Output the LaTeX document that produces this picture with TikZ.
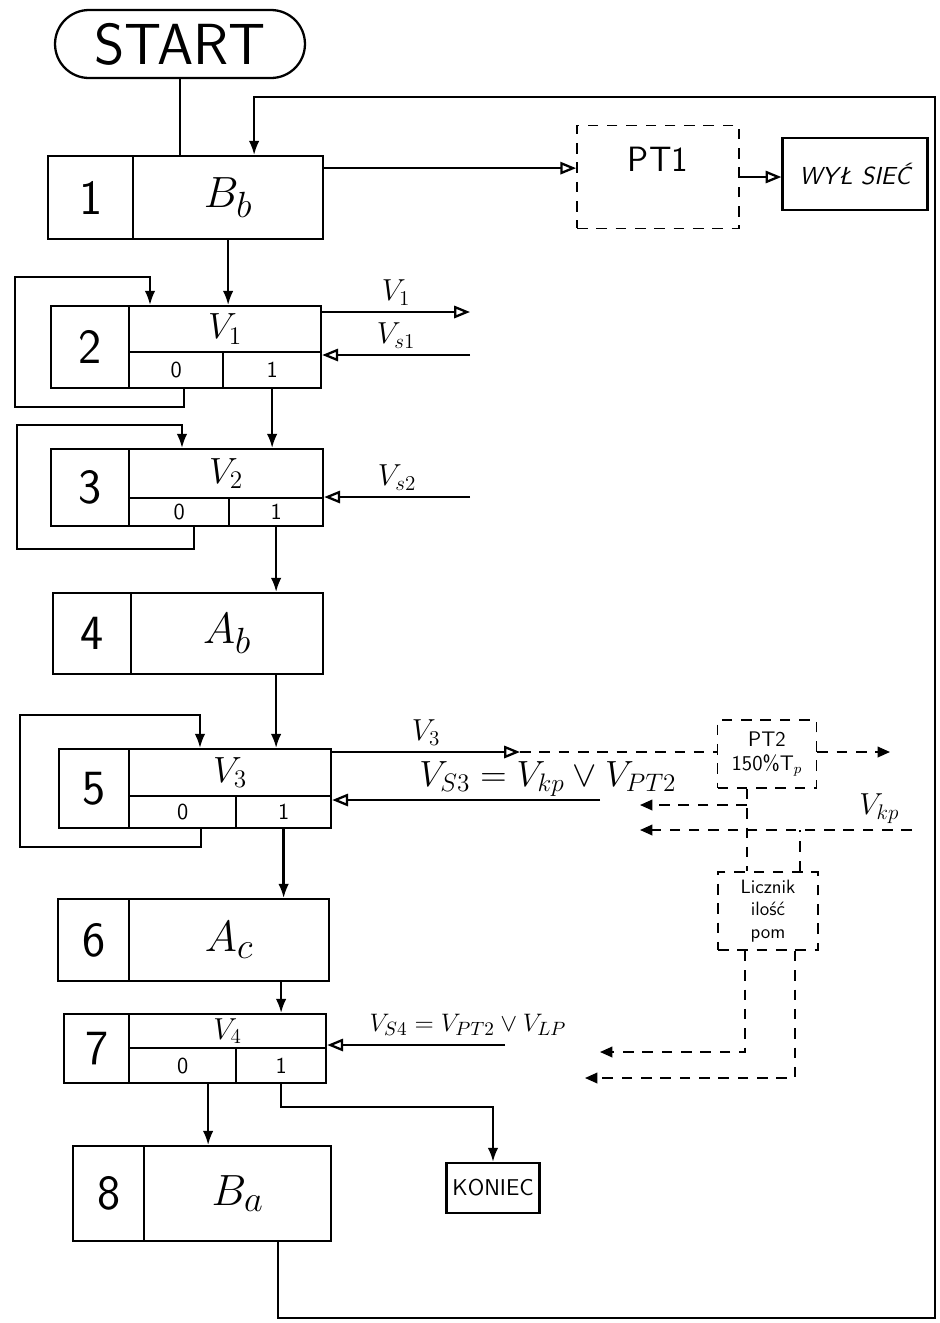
\documentclass[tikz,border=0pt]{standalone}
\usepackage{amsmath}
\usepackage{amssymb}
\usepackage{tikz}
\usetikzlibrary{positioning}
\usetikzlibrary{arrows.meta}
\usetikzlibrary{shapes}

\begin{document}
\begin{tikzpicture}[x=0.02cm, y=-0.02cm, auto, line width=1.3pt,
    cell/.style={draw, anchor=north west, inner sep=0pt},
    num/.style={cell, font=\sffamily\fontsize{28}{30}\selectfont},
    big/.style={cell, font=\fontsize{30}{32}\selectfont},
    lab/.style={cell, font=\fontsize{22}{24}\selectfont},
    bit/.style={cell, font=\sffamily\fontsize{13}{15}\selectfont},
    sl/.style={font=\fontsize{18}{20}\selectfont},
    flow/.style={-{Latex[length=8pt,width=6pt]}},
    sig/.style={-{Triangle[open,length=9pt,width=7pt]}},
    dline/.style={line width=1pt, dash pattern=on 6pt off 5pt},
    dsig/.style={dline, -{Triangle[length=7pt,width=6pt]}},
    dbox/.style={draw, dline, inner sep=1pt, align=center}]
    \useasboundingbox (0,0) rectangle (940,1323);

    \node (start) [draw, rounded corners=0.68cm, minimum width=5cm, minimum height=1.36cm, font=\sffamily\fontsize{33}{36}\selectfont] at (180,44) {START};

    \node (n1) [num, minimum width=1.7cm, minimum height=1.66cm] at (47,155) {1};
    \node (b1) [big, minimum width=3.8cm, minimum height=1.66cm] at (132,155) {$B_b$};

    \node (pt1) [dbox, minimum width=3.24cm, minimum height=2.06cm, label={[anchor=north, yshift=-0.3cm, font=\sffamily\fontsize{20}{22}\selectfont]north:PT1}] at (658,177) {};
    \node (wyl) [draw, minimum width=2.9cm, minimum height=1.44cm, font=\sffamily\itshape\fontsize{14}{16}\selectfont] at (855,174) {WYŁ SIEĆ};

    \node (n2) [num, minimum width=1.56cm, minimum height=1.64cm] at (50,305) {2};
    \node (v2) [lab, minimum width=3.84cm, minimum height=0.92cm] at (128,305) {$V_1$};
    \node (z2) [bit, minimum width=1.88cm, minimum height=0.72cm] at (128,351) {0};
    \node (o2) [bit, minimum width=1.96cm, minimum height=0.72cm] at (222,351) {1};

    \node (n3) [num, minimum width=1.56cm, minimum height=1.54cm] at (50,448) {3};
    \node (v3) [lab, minimum width=3.88cm, minimum height=0.98cm] at (128,448) {$V_2$};
    \node (z3) [bit, minimum width=2cm, minimum height=0.56cm] at (128,497) {0};
    \node (o3) [bit, minimum width=1.88cm, minimum height=0.56cm] at (228,497) {1};

    \node (n4) [num, minimum width=1.56cm, minimum height=1.62cm] at (52,592) {4};
    \node (b4) [big, minimum width=3.84cm, minimum height=1.62cm] at (130,592) {$A_b$};

    \node (n5) [num, minimum width=1.4cm, minimum height=1.58cm] at (58,748) {5};
    \node (v5) [lab, minimum width=4.04cm, minimum height=0.94cm] at (128,748) {$V_3$};
    \node (z5) [bit, minimum width=2.14cm, minimum height=0.64cm] at (128,795) {0};
    \node (o5) [bit, minimum width=1.9cm, minimum height=0.64cm] at (235,795) {1};

    \node (pt2) [dbox, minimum width=1.98cm, minimum height=1.36cm, font=\sffamily\fontsize{12}{14}\selectfont] at (767,754) {PT2\\150\%T$_p$};
    \node (lic) [dbox, minimum width=2cm, minimum height=1.56cm, font=\sffamily\fontsize{11}{13}\selectfont] at (768,911) {Licznik\\ilość\\pom};

    \node (n6) [num, minimum width=1.42cm, minimum height=1.64cm] at (57,898) {6};
    \node (b6) [big, minimum width=4cm, minimum height=1.64cm] at (128,898) {$A_c$};

    \node (n7) [num, minimum width=1.3cm, minimum height=1.38cm] at (63,1013) {7};
    \node (v7) [lab, minimum width=3.94cm, minimum height=0.68cm, font=\fontsize{17}{19}\selectfont] at (128,1013) {$V_4$};
    \node (z7) [bit, minimum width=2.14cm, minimum height=0.7cm] at (128,1047) {0};
    \node (o7) [bit, minimum width=1.8cm, minimum height=0.7cm] at (235,1047) {1};

    \node (n8) [num, minimum width=1.42cm, minimum height=1.9cm] at (72,1145) {8};
    \node (b8) [big, minimum width=3.74cm, minimum height=1.9cm] at (143,1145) {$B_a$};

    \node (kon) [draw, minimum width=1.66cm, minimum height=1cm, font=\sffamily\fontsize{13}{15}\selectfont] at (493,1188) {KONIEC};

    \node (ls3) [font=\fontsize{22}{24}\selectfont] at (548,779) {$V_{S3}= V_{kp}\vee V_{PT2}$};
    \node (ls4) [font=\fontsize{15}{17}\selectfont] at (468,1025) {$V_{S4} = V_{PT2}\vee V_{LP}$};

    \coordinate (rb) at (935,1318);
    \coordinate (rt) at (935,97);
    \coordinate (l2) at (15,277);
    \coordinate (l3) at (17,425);
    \coordinate (l5) at (20,715);
    \coordinate (v1e) at (470,312);
    \coordinate (vs1) at (470,355);
    \coordinate (vs2) at (470,497);
    \coordinate (v3m) at (520,752);
    \coordinate (pt2r) at (890,752);
    \coordinate (vs3) at (600,800);
    \coordinate (k1) at (640,805);
    \coordinate (kp) at (912,830);
    \coordinate (k2) at (640,830);
    \coordinate (lp1) at (600,1052);
    \coordinate (lp2) at (585,1078);
    \coordinate (vs4) at (505,1045);

    \draw (start) -- (start |- b1.north);
    \draw[flow] ([xshift=0.81cm]b8.south) |- (rb) -- (rt) -| ([xshift=0.52cm]b1.north);
    \draw[sig] ([yshift=0.59cm]b1.east) -- ([yshift=0.59cm]b1.east -| pt1.west);
    \draw[sig] (pt1.east) -- (pt1.east -| wyl.west);

    \draw[flow] (b1.south) -- (b1.south |- v2.north);
    \draw[flow] ([xshift=0.16cm]z2.south) -- ++(0,18) -| (l2) -| ([xshift=0.44cm]v2.north west);
    \draw[sig] (v1e -| v2.east) to node[sl] {$V_1$} (v1e);
    \draw[sig] (vs1) to node[sl, swap] {$V_{s1}$} (vs1 -| v2.east);

    \draw[flow] (o2.south) -- (o2.south |- v3.north);
    \draw[flow] ([xshift=0.3cm]z3.south) -- ++(0,22) -| (l3) -| ([xshift=1.08cm]v3.north west);
    \draw[sig] (vs2) to node[sl, swap] {$V_{s2}$} (vs2 -| v3.east);

    \draw[flow] (o3.south) -- (o3.south |- b4.north);
    \draw[flow] ([xshift=0.98cm]b4.south) -- ([xshift=0.98cm]b4.south |- v5.north);
    \draw[flow] ([xshift=0.37cm]z5.south) -- ++(0,18) -| (l5) -| ([xshift=1.44cm]v5.north west);
    \draw[sig] (v3m -| v5.east) to node[sl] {$V_3$} (v3m);
    \draw[dline] (v3m) -- (v3m -| pt2.west);
    \draw[dsig] (pt2.east |- pt2r) -- (pt2r);
    \draw[sig] (vs3) -- (vs3 -| v5.east);

    \draw[dline] ([xshift=-0.4cm]pt2.south) -- ([xshift=-0.4cm]pt2.south |- lic.north);
    \draw[dsig] ([xshift=-0.4cm]pt2.south |- k1) -- (k1);
    \draw[dsig] (kp) to node[sl, swap, pos=0.12] {$V_{kp}$} (k2);
    \draw[dline] ([xshift=0.64cm]lic.north) -- ([xshift=0.64cm]lic.north |- kp);
    \draw[dsig] ([xshift=-0.46cm]lic.south) |- (lp1);
    \draw[dsig] ([xshift=0.54cm]lic.south) |- (lp2);

    \draw[flow] (o5.south) -- (o5.south |- b6.north);
    \draw[flow] ([xshift=1.04cm]b6.south) -- ([xshift=1.04cm]b6.south |- v7.north);
    \draw[sig] (vs4) -- (vs4 -| v7.east);
    \draw[flow] ([xshift=0.51cm]z7.south) -- ([xshift=0.51cm]z7.south |- b8.north);
    \draw[flow] (o7.south) -- ++(0,23) -| (kon.north);
\end{tikzpicture}
\end{document}
